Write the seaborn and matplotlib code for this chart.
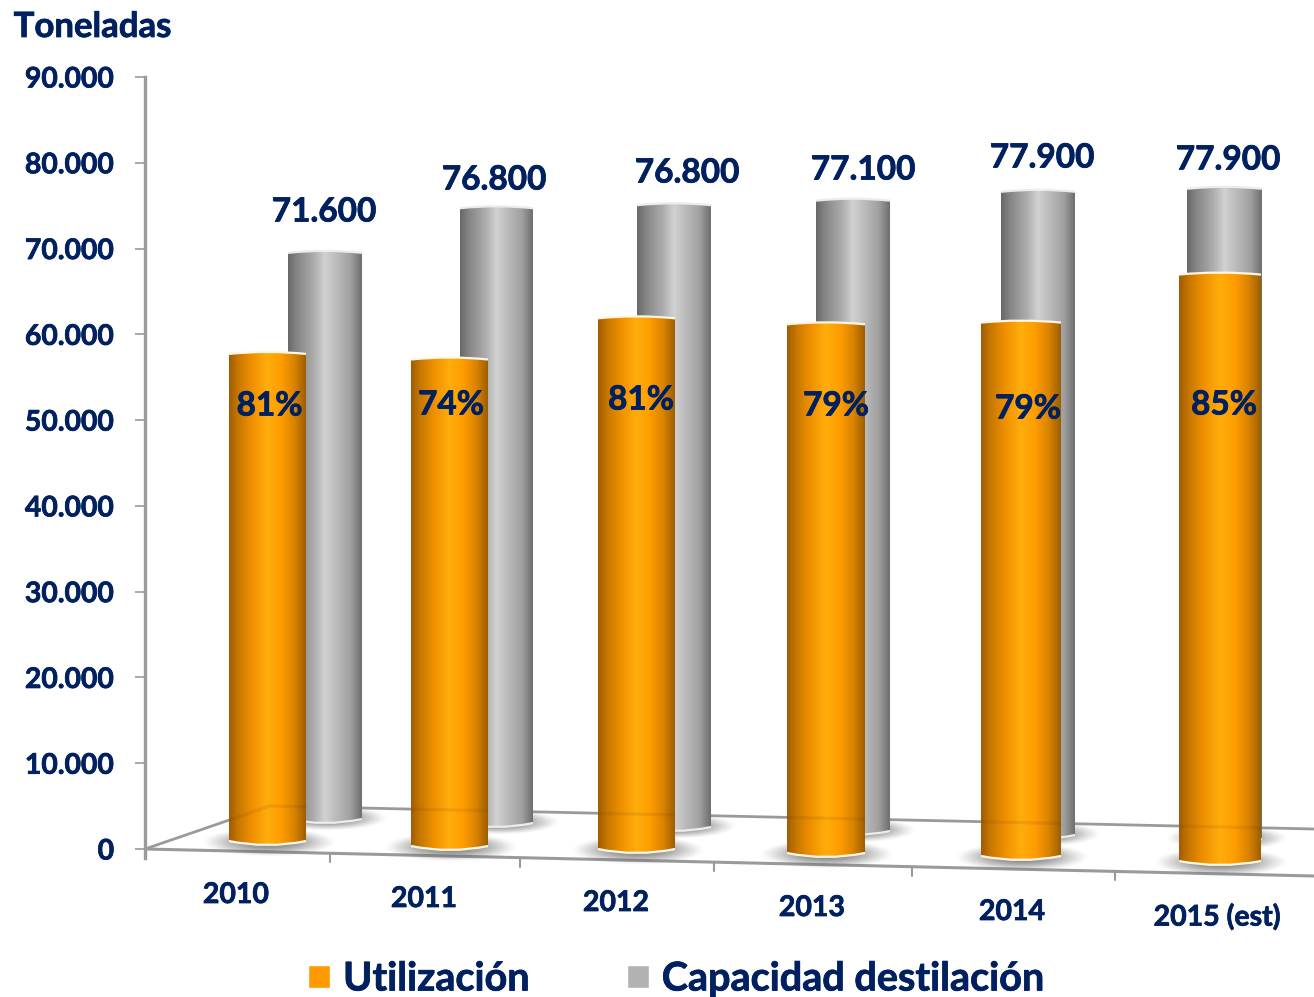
import numpy as np
import pandas as pd
import matplotlib
matplotlib.use("Agg")
import matplotlib.pyplot as plt
import matplotlib.patheffects as pe
import seaborn as sns
from matplotlib.colors import LinearSegmentedColormap
from matplotlib.patches import PathPatch
from matplotlib.path import Path
from matplotlib.ticker import FuncFormatter

# ---- data ----
years = ["2010", "2011", "2012", "2013", "2014", "2015 (est)"]
capacidad = [71600, 76800, 76800, 77100, 77900, 77900]
utilizacion = [57950, 57300, 62100, 61400, 61600, 67200]
porcentaje = ["81%", "74%", "81%", "79%", "79%", "85%"]
yticks = [0, 10000, 20000, 30000, 40000, 50000, 60000, 70000, 80000, 90000]

# ---- perspective layout of the picture, in pixels ----
W, H = 1314, 997
AX_L, Y0_PX, Y90_PX = 145, 849, 77
PX_PER_UNIT = (Y0_PX - Y90_PX) / 90000
front_cx = [267.5, 449.5, 636.5, 826, 1021, 1220]
front_w = [77, 77, 77, 78, 80, 82]
front_base = [845, 850, 853, 857, 860, 865]
back_cx = [325, 496.5, 674, 853, 1038, 1224.5]
back_w = [74, 73, 74, 74, 74, 75]
back_base = [823, 827, 831, 835, 839, 843]
back_drop = [16, 16, 13, 11, 9, 6]
label_xy = [(324, 212), (494, 180), (687, 173), (863, 170), (1042, 158), (1228, 160)]
pct_xy = [(269.5, 406), (451, 405), (641, 400), (836, 406), (1028, 409), (1224, 405)]
year_xy = [(236, 895), (424, 899), (616, 903), (812, 908), (1012, 912), (1217, 917)]
tick_px = [145, 330, 520, 714, 912, 1115]

NAVY = "#002060"
AXIS_GREY = "#9a9a9a"
HEAVY = [pe.withStroke(linewidth=0.55, foreground=NAVY)]

sns.set_style("white")
plt.rcParams["font.family"] = ["Lato", "DejaVu Sans"]
plt.rcParams["font.weight"] = "bold"

fig = plt.figure(figsize=(W / 100, H / 100), dpi=100)
ax = fig.add_axes([AX_L / W, 0, (W - AX_L) / W, 1])

SLOPE = 190.5
xmin = (AX_L - front_cx[0]) / SLOPE
xmax = (W - front_cx[0]) / SLOPE


def xd(p):
    return xmin + (p - AX_L) / SLOPE


def yd(p):
    return (Y0_PX - p) / PX_PER_UNIT


def y_px(v):
    return Y0_PX - v * PX_PER_UNIT


df = pd.DataFrame({"year": years, "cap": capacidad, "uti": utilizacion})
sns.barplot(data=df, x="year", y="cap", color="#b2b2b2", width=0.39,
            label="Capacidad destilación", ax=ax, saturation=1, zorder=3)
n_back = len(ax.patches)
sns.barplot(data=df, x="year", y="uti", color="#ff9900", width=0.4,
            label="Utilización", ax=ax, saturation=1, zorder=6)
back_bars = ax.patches[:n_back]
front_bars = ax.patches[n_back:]
handles, labels = ax.get_legend_handles_labels()
if ax.get_legend() is not None:
    ax.get_legend().remove()

grey_map = LinearSegmentedColormap.from_list("g", [
    (0, "#686868"), (0.12, "#858585"), (0.35, "#adadad"), (0.5, "#d2d2d2"),
    (0.62, "#c0c0c0"), (0.85, "#a0a0a0"), (1, "#6e6e6e")])
orange_map = LinearSegmentedColormap.from_list("o", [
    (0, "#a05c00"), (0.12, "#c67800"), (0.3, "#f09000"), (0.5, "#ffad0c"),
    (0.68, "#ff9d00"), (0.85, "#d98300"), (1, "#9c5e00")])
ramp = np.linspace(0, 1, 256).reshape(1, -1)


def shadow(cx, cy, half_w, half_h, z):
    gx, gy = np.meshgrid(np.linspace(-1, 1, 120), np.linspace(-1, 1, 40))
    alpha = np.clip(1 - gx**2 - gy**2, 0, 1) ** 1.5 * 0.8
    rgba = np.zeros(alpha.shape + (4,))
    rgba[..., :3] = 0.38
    rgba[..., 3] = alpha
    ax.imshow(rgba, extent=(xd(cx - half_w), xd(cx + half_w), yd(cy + half_h), yd(cy - half_h)),
              aspect="auto", zorder=z, interpolation="bilinear")


def cylinder(bar, cx, width, top, base, cmap, z, rim):
    x0, x1 = cx - width / 2, cx + width / 2
    verts = [(x0, top + 2), (cx, top - 2), (x1, top + 2), (x1, base - 4),
             (cx, base + 4), (x0, base - 4), (x0, top + 2)]
    codes = [Path.MOVETO, Path.CURVE3, Path.CURVE3, Path.LINETO,
             Path.CURVE3, Path.CURVE3, Path.CLOSEPOLY]
    shape = PathPatch(Path([(xd(a), yd(b)) for a, b in verts], codes), transform=ax.transData,
                      facecolor="none", edgecolor="none", zorder=z + 0.2)
    ax.add_patch(shape)
    for seg in (verts[:3], verts[3:6]):
        ax.add_patch(PathPatch(Path([(xd(a), yd(b)) for a, b in seg],
                                    [Path.MOVETO, Path.CURVE3, Path.CURVE3]),
                               facecolor="none", edgecolor=rim, lw=1.6, zorder=z + 0.3))
    bar.set_x(xd(x0))
    bar.set_width(width / SLOPE)
    bar.set_y(yd(base))
    bar.set_height(yd(top) - yd(base))
    bar.set_clip_path(shape)
    im = ax.imshow(ramp, cmap=cmap, extent=(xd(x0), xd(x1), yd(base + 6), yd(top - 3)),
                   aspect="auto", zorder=z + 0.1, interpolation="bilinear")
    im.set_clip_path(shape)
    return shape


# floor of the 3-D box
floor_back = ([xd(AX_L), xd(270), xd(W)], [yd(849), yd(806), yd(829)])
ax.plot([xd(AX_L), xd(W)], [yd(849), yd(876)], color=AXIS_GREY, lw=2.2, zorder=2.5)
ax.plot(*floor_back, color=AXIS_GREY, lw=2.0, zorder=1.5)
for t in tick_px:
    y = 849 + (t - AX_L) * 27 / (W - AX_L)
    ax.plot([xd(t), xd(t)], [yd(y), yd(y + 9)], color=AXIS_GREY, lw=1.5, zorder=2.5)

for i, bar in enumerate(back_bars):
    top = y_px(capacidad[i]) + back_drop[i]
    cylinder(bar, back_cx[i], back_w[i], top, back_base[i], grey_map, 3, "#ececec")
    shadow(back_cx[i] + 2, back_base[i] - 5, 62, 13, 2)

for i, bar in enumerate(front_bars):
    top = y_px(utilizacion[i])
    shape = cylinder(bar, front_cx[i], front_w[i], top, front_base[i], orange_map, 6, "#fff6e6")
    shadow(front_cx[i] + 1, front_base[i] - 3, 68, 15, 5)
    seen_through, = ax.plot(*floor_back, color="#5a3000", alpha=0.1, lw=2.4, zorder=6.4)
    seen_through.set_clip_path(shape)

ax.set_xlim(xmin, xmax)
ax.set_ylim(yd(H), yd(0))
ax.set_yticks(yticks)
ax.yaxis.set_major_formatter(FuncFormatter(lambda v, _: f"{v:,.0f}".replace(",", ".")))
ax.tick_params(axis="y", left=True, length=7.2, width=1.2, color=AXIS_GREY, pad=15,
               labelsize=20.4, labelcolor=NAVY)
for lab in ax.get_yticklabels():
    lab.set_fontweight("bold")
    lab.set_path_effects(HEAVY)
ax.set_xticks([])
ax.set_xlabel("")
ax.set_ylabel("")
for s in ["top", "right", "bottom"]:
    ax.spines[s].set_visible(False)
ax.spines["left"].set_color(AXIS_GREY)
ax.spines["left"].set_linewidth(2.4)
ax.spines["left"].set_bounds(yd(858), 90000)
ax.patch.set_alpha(0)

for v, (px, py) in zip(capacidad, label_xy):
    ax.text(xd(px), yd(py), f"{v:,.0f}".replace(",", "."), color=NAVY, fontsize=24,
            fontweight="bold", ha="center", va="center", zorder=20, path_effects=HEAVY)
for s, (px, py) in zip(porcentaje, pct_xy):
    ax.text(xd(px), yd(py), s, color=NAVY, fontsize=24, fontweight="bold",
            ha="center", va="center", zorder=20, path_effects=HEAVY)
for s, (px, py) in zip(years, year_xy):
    ax.text(xd(px), yd(py), s, color=NAVY, fontsize=20.5, fontweight="bold",
            ha="center", va="center", zorder=20, path_effects=HEAVY)
ax.text(xd(92.5), yd(27), "Toneladas", color=NAVY, fontsize=25, fontweight="bold",
        ha="center", va="center", zorder=20, path_effects=HEAVY)

order = [labels.index("Utilización"), labels.index("Capacidad destilación")]
leg = fig.legend([handles[k] for k in order], [labels[k] for k in order], ncol=2, frameon=False,
                 loc="center", bbox_to_anchor=(676.5 / W, 1 - 979 / H), fontsize=28.5,
                 labelcolor=NAVY, handlelength=0.55, handleheight=0.55, handletextpad=0.33,
                 columnspacing=2.45, borderpad=0, borderaxespad=0)
for t in leg.get_texts():
    t.set_fontweight("bold")
    t.set_path_effects(HEAVY)

fig.savefig("out.png", dpi=100, facecolor="white")
